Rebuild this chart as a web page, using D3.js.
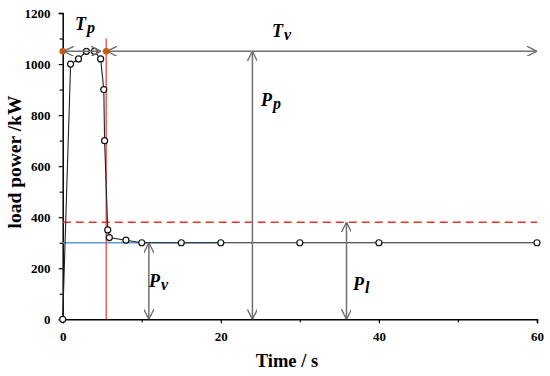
<!DOCTYPE html>
<html><head><meta charset="utf-8">
<script src="https://cdn.jsdelivr.net/npm/d3@7"></script>
<style>body{margin:0;background:#fff}svg{display:block}
.serif{font-family:"Liberation Serif","Times New Roman","DejaVu Serif",serif;}
</style>
</head><body>
<script>
const timeS = [0, 1, 2, 3, 4, 4.8, 5.2, 5.3, 5.7, 5.9, 8, 10, 15, 20, 30, 40, 60];
const loadKW = [0, 1000, 1020, 1050, 1050, 1020, 900, 700, 350, 320, 310, 300, 300, 300, 300, 300, 300];
const xTicks = [0, 20, 40, 60];
const xMinor = [10, 30, 50];
const yTicks = [0, 200, 400, 600, 800, 1000, 1200];
const yMinor = [100, 300, 500, 700, 900, 1100];
const peakPower = 1050, limitPower = 380, validPower = 300, peakEnd = 5.5, validLineEnd = 20;

const W = 550, H = 376;
const svg = d3.select("body").append("svg").attr("width", W).attr("height", H);
const x = d3.scaleLinear().domain([0, 60]).range([62.7, 537]);
const y = d3.scaleLinear().domain([0, 1200]).range([319.3, 13]);
const gray = "#6f6f6f";

const defs = svg.append("defs");
defs.append("marker").attr("id", "ah").attr("viewBox", "0 0 10 10").attr("refX", 10).attr("refY", 5)
  .attr("markerWidth", 10).attr("markerHeight", 10).attr("markerUnits", "userSpaceOnUse").attr("orient", "auto-start-reverse")
  .append("path").attr("d", "M0,0 L10,5 L0,10").attr("fill", "none").attr("stroke", gray).attr("stroke-width", 1.4);

const xAxis = d3.axisBottom(x).tickValues(xTicks).tickSize(4).tickFormat(d3.format("d"));
const gx = svg.append("g").attr("transform", `translate(0,${y(0)})`).call(xAxis);
const yAxis = d3.axisLeft(y).tickValues(yTicks).tickSize(4).tickFormat(d3.format("d"));
const gy = svg.append("g").attr("transform", `translate(${x(0)},0)`).call(yAxis);
svg.append("g").attr("transform", `translate(0,${y(0)})`).call(d3.axisBottom(x).tickValues(xMinor).tickSize(3).tickFormat("")).select(".domain").remove();
svg.append("g").attr("transform", `translate(${x(0)},0)`).call(d3.axisLeft(y).tickValues(yMinor).tickSize(3).tickFormat("")).select(".domain").remove();
[gx, gy].forEach(g => {
  g.attr("font-family", null).attr("font-size", null).attr("class", "serif");
  g.select(".domain").attr("stroke", "#000").attr("stroke-width", 1.5);
  g.selectAll("text").attr("font-weight", "bold").style("font-size", "13px").attr("fill", "#000");
});
svg.selectAll(".tick line").attr("stroke", "#000").attr("stroke-width", 1.2);
gx.selectAll("text").attr("dy", "1.1em");
gy.selectAll("text").attr("dx", "-0.4em");

svg.append("line").attr("x1", x(0)).attr("x2", x(60)).attr("y1", y(limitPower)).attr("y2", y(limitPower))
  .attr("stroke", "#e8322b").attr("stroke-width", 1.6).attr("stroke-dasharray", "8,5");
svg.append("line").attr("x1", x(0)).attr("x2", x(validLineEnd)).attr("y1", y(validPower)).attr("y2", y(validPower))
  .attr("stroke", "#5b9bd5").attr("stroke-width", 1.6);
svg.append("line").attr("x1", x(peakEnd)).attr("x2", x(peakEnd)).attr("y1", y(0)).attr("y2", y(1100))
  .attr("stroke", "#e8453f").attr("stroke-width", 1.3);

const line = d3.line().x((d, i) => x(timeS[i])).y(d => y(d));
svg.append("path").datum(loadKW).attr("d", line).attr("fill", "none").attr("stroke", "#222").attr("stroke-width", 1.1);
svg.selectAll("circle.pt").data(loadKW).enter().append("circle").attr("class", "pt")
  .attr("cx", (d, i) => x(timeS[i])).attr("cy", d => y(d)).attr("r", 3)
  .attr("fill", "#fff").attr("stroke", "#111").attr("stroke-width", 1.2);

function arrow(x1, y1, x2, y2) {
  svg.append("line").attr("x1", x1).attr("y1", y1).attr("x2", x2).attr("y2", y2)
    .attr("stroke", gray).attr("stroke-width", 1.5)
    .attr("marker-start", "url(#ah)").attr("marker-end", "url(#ah)");
}
arrow(x(0) + 1, y(peakPower), x(4.85), y(peakPower));
arrow(x(5.6), y(peakPower), x(60), y(peakPower));
arrow(x(24), y(0), x(24), y(peakPower));
arrow(x(10.9), y(0), x(10.9), y(validPower));
arrow(x(35.9), y(0), x(35.9), y(limitPower));

[0, peakEnd].forEach(t => svg.append("circle").attr("cx", x(t)).attr("cy", y(peakPower)).attr("r", 3.3).attr("fill", "#c55a11"));

function label(px, py, main, sub) {
  const t = svg.append("text").attr("class", "serif").attr("x", px).attr("y", py)
    .attr("font-style", "italic").attr("font-weight", "bold").style("font-size", "18px").attr("fill", "#000");
  t.append("tspan").text(main);
  t.append("tspan").attr("dy", 3).attr("dx", 1).style("font-size", "16px").text(sub);
}
label(75, 30, "T", "p");
label(272, 37, "T", "v");
label(261, 106, "P", "p");
label(149, 287, "P", "v");
label(353, 290, "P", "l");

svg.append("text").attr("class", "serif").attr("x", 287).attr("y", 367).attr("text-anchor", "middle")
  .attr("font-weight", "bold").style("font-size", "18.5px").text("Time / s");
svg.append("text").attr("class", "serif").attr("transform", "translate(21,162) rotate(-90)").attr("text-anchor", "middle")
  .attr("font-weight", "bold").style("font-size", "19.5px").text("load power /kW");
</script>
</body></html>
